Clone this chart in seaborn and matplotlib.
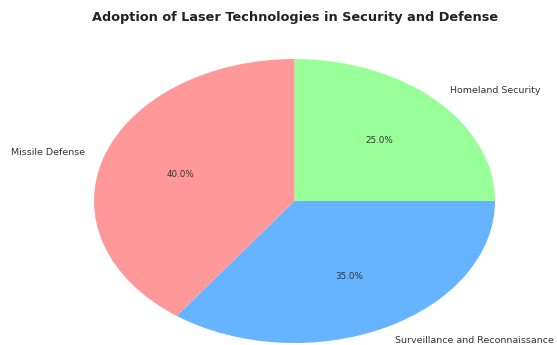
import matplotlib
matplotlib.use("Agg")
import matplotlib.pyplot as plt
import seaborn as sns

sns.set_style("white")
plt.rcParams['font.family'] = ['DejaVu Sans']

categories = ["Homeland Security", "Surveillance and Reconnaissance", "Missile Defense"]
values = [25.0, 35.0, 40.0]
colors = ["#99ff99", "#66b3ff", "#ff9999"]
title = "Adoption of Laser Technologies in Security and Defense"

fig = plt.figure(figsize=(5.57, 3.45), dpi=100)
ax = fig.add_axes([94 / 557, 2 / 345, 401 / 557, 284 / 345])
wedges, texts, autotexts = ax.pie(values, labels=categories, colors=colors,
                                  autopct="%1.1f%%", startangle=90, counterclock=False,
                                  wedgeprops={"linewidth": 0},
                                  textprops={"fontsize": 6.8, "color": "#333333"})
for t in autotexts:
    t.set_fontsize(6.3)
ax.set_aspect("auto")
ax.set_xlim(-1, 1)
ax.set_ylim(-1, 1)
ax.axis("off")
fig.text(0.529, 0.95, title, ha="center", va="center", fontsize=9.3, fontweight="bold", color="#222222")
fig.savefig("out.png", dpi=100)
